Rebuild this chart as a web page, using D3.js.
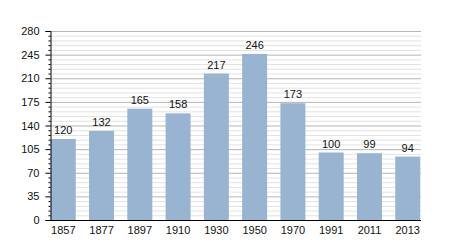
<!DOCTYPE html>
<html><head><meta charset="utf-8">
<script src="https://cdn.jsdelivr.net/npm/d3@7"></script>
<style>body{margin:0;background:#fff;} text{font-family:"Liberation Sans",Arial,sans-serif;}</style>
</head><body>
<svg id="c" width="450" height="250"></svg>
<script>
const years = ["1857","1877","1897","1910","1930","1950","1970","1991","2011","2013"];
const values = [120,132,165,158,217,246,173,100,99,94];
const yTicks = [0,35,70,105,140,175,210,245,280];

(function(){
const svg = d3.select("#c");
const mL = 50, mR = 421, mT = 31, mB = 220;
const x = d3.scaleBand().domain(years).range([mL, mR]).paddingInner(0.347).paddingOuter(0.02);
const y = d3.scaleLinear().domain([0, 280]).range([mB, mT]);

const minor = d3.range(0, 281, 7).filter(v => v % 35 !== 0);
svg.append("g").selectAll("line").data(minor).join("line")
  .attr("x1", mL).attr("x2", mR).attr("y1", d => y(d) + 0.5).attr("y2", d => y(d) + 0.5)
  .attr("stroke", "#e2e2e2").attr("stroke-width", 1);
svg.append("g").selectAll("line").data(yTicks.filter(v => v > 0)).join("line")
  .attr("x1", mL).attr("x2", mR).attr("y1", d => y(d) + 0.5).attr("y2", d => y(d) + 0.5)
  .attr("stroke", "#b4b4b4").attr("stroke-width", 1);

svg.append("g").selectAll("rect").data(values).join("rect")
  .attr("x", (d, i) => x(years[i])).attr("width", x.bandwidth())
  .attr("y", d => y(d)).attr("height", d => y(0) - y(d))
  .attr("fill", "#98b4d0");

svg.append("g").selectAll("text").data(values).join("text")
  .attr("x", (d, i) => x(years[i]) + x.bandwidth() / 2).attr("y", d => y(d) - 5)
  .attr("text-anchor", "middle").attr("font-size", 11).attr("fill", "#111").text(d => d);

const ya = svg.append("g").attr("transform", `translate(${mL + 0.5},0)`)
  .call(d3.axisLeft(y).tickValues(yTicks).tickSize(5).tickPadding(6));
ya.select(".domain").attr("stroke", "#000");
ya.selectAll(".tick text").attr("font-size", 11).attr("fill", "#111").attr("font-family", "Liberation Sans, Arial, sans-serif");
ya.selectAll(".tick line").attr("stroke", "#000");
svg.append("g").attr("transform", `translate(${mL + 0.5},0)`)
  .call(d3.axisLeft(y).tickValues(minor).tickSize(2).tickFormat(""))
  .call(g => g.select(".domain").remove())
  .selectAll(".tick line").attr("stroke", "#000");

const xa = svg.append("g").attr("transform", `translate(0,${mB + 0.5})`)
  .call(d3.axisBottom(x).tickSize(0).tickPadding(6));
xa.select(".domain").attr("d", `M${mL - 4},0H${mR}`).attr("stroke", "#000");
xa.selectAll(".tick text").attr("font-size", 11).attr("fill", "#111").attr("font-family", "Liberation Sans, Arial, sans-serif");
})();
</script>
</body></html>
